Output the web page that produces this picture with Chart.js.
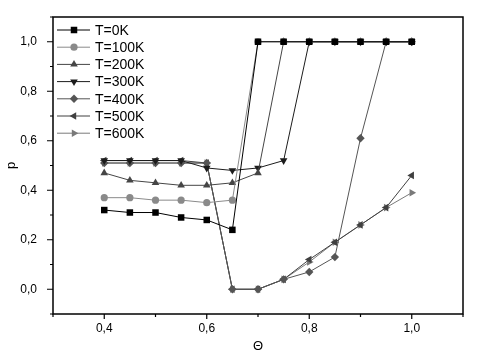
<!DOCTYPE html>
<html>
<head>
<meta charset="utf-8">
<script src="https://cdn.jsdelivr.net/npm/chart.js@4.4.0/dist/chart.umd.min.js"></script>
<style>
  body { margin: 0; background: #fff; }
  #wrap { width: 493px; height: 359px; }
</style>
</head>
<body>
<div id="wrap"><canvas id="myChart" width="493" height="359"></canvas></div>
<script>
// coverage angle values
var theta = [0.4, 0.45, 0.5, 0.55, 0.6, 0.65, 0.7, 0.75, 0.8, 0.85, 0.9, 0.95, 1.0];

var labels = ["T=0K", "T=100K", "T=200K", "T=300K", "T=400K", "T=500K", "T=600K"];
var p0   = [0.32, 0.31, 0.31, 0.29, 0.28, 0.24, 1, 1, 1, 1, 1, 1, 1];
var p100 = [0.37, 0.37, 0.36, 0.36, 0.35, 0.36, 1, 1, 1, 1, 1, 1, 1];
var p200 = [0.47, 0.44, 0.43, 0.42, 0.42, 0.43, 0.47, 1, 1, 1, 1, 1, 1];
var p300 = [0.52, 0.52, 0.52, 0.52, 0.49, 0.48, 0.49, 0.52, 1, 1, 1, 1, 1];
var p400 = [0.51, 0.51, 0.51, 0.51, 0.51, 0, 0, 0.04, 0.07, 0.13, 0.61, 1, 1];
var p500 = [0.52, 0.52, 0.52, 0.52, 0.51, 0, 0, 0.04, 0.12, 0.19, 0.26, 0.33, 0.46];
var p600 = [0.51, 0.51, 0.51, 0.51, 0.51, 0, 0, 0.04, 0.11, 0.19, 0.26, 0.33, 0.39];

var xTickLabels = [0.4, 0.6, 0.8, 1.0];
var yTickLabels = [0.0, 0.2, 0.4, 0.6, 0.8, 1.0];

var series = [p0, p100, p200, p300, p400, p500, p600];
var colors = ["#000000", "#8a8a8a", "#454545", "#1c1c1c", "#555555", "#404040", "#7a7a7a"];
var styles = ["rect", "circle", "triangle", "triangle", "rectRot", "triangle", "triangle"];
var rotations = [0, 0, 0, 180, 0, -90, 90];
var radii = [4.6, 3.6, 4.4, 4.4, 4.2, 4.4, 4.4];

function toXY(vals) {
  return vals.map(function (v, i) { return { x: theta[i], y: v }; });
}

var datasets = series.map(function (vals, i) {
  return {
    label: labels[i],
    data: toXY(vals),
    borderColor: colors[i],
    backgroundColor: colors[i],
    borderWidth: 1,
    pointStyle: styles[i],
    rotation: rotations[i],
    pointRadius: radii[i],
    pointBorderWidth: 0,
    tension: 0
  };
});

function fmt(v) {
  return v.toFixed(1).replace(".", ",");
}
function near(list, v) {
  return list.some(function (t) { return Math.abs(t - v) < 1e-6; });
}

// frame, ticks and the line+marker legend
var framePlugin = {
  id: "frame",
  afterDraw: function (chart) {
    var ctx = chart.ctx;
    var a = chart.chartArea;
    var xs = chart.scales.x, ys = chart.scales.y;
    ctx.save();
    ctx.strokeStyle = "#000";
    ctx.lineWidth = 1.5;
    ctx.strokeRect(a.left, a.top, a.right - a.left, a.bottom - a.top);
    ctx.lineWidth = 1.2;
    ctx.beginPath();
    for (var k = 3; k <= 11; k++) {
      var xv = k / 10;
      var px = xs.getPixelForValue(xv);
      var len = near(xTickLabels, xv) ? 5 : 3;
      ctx.moveTo(px, a.bottom);
      ctx.lineTo(px, a.bottom + len);
    }
    for (var j = -1; j <= 11; j++) {
      var yv = j / 10;
      var py = ys.getPixelForValue(yv);
      var l2 = near(yTickLabels, yv) ? 6 : 3;
      ctx.moveTo(a.left, py);
      ctx.lineTo(a.left - l2, py);
    }
    ctx.stroke();

    // legend
    ctx.font = "14px 'Liberation Sans', Arial, sans-serif";
    ctx.textBaseline = "middle";
    chart.data.datasets.forEach(function (ds, i) {
      var y = 30 + i * 17.2;
      ctx.strokeStyle = ds.borderColor;
      ctx.lineWidth = 1;
      ctx.beginPath();
      ctx.moveTo(57, y);
      ctx.lineTo(90, y);
      ctx.stroke();
      ctx.fillStyle = ds.backgroundColor;
      Chart.helpers.drawPoint(ctx, {
        pointStyle: ds.pointStyle, rotation: ds.rotation, radius: ds.pointRadius, borderWidth: 0
      }, 74, y);
      ctx.fillStyle = "#000";
      ctx.fillText(ds.label, 95, y + 1);
    });
    ctx.restore();
  }
};

var ctx = document.getElementById("myChart").getContext("2d");
var myChart = new Chart(ctx, {
  type: "line",
  data: { datasets: datasets },
  plugins: [framePlugin],
  options: {
    responsive: false,
    animation: false,
    layout: { padding: { top: 17, right: 30, left: 4, bottom: 5 } },
    plugins: { legend: { display: false }, tooltip: { enabled: false } },
    scales: {
      x: {
        type: "linear",
        min: 0.3,
        max: 1.1,
        grid: { display: false },
        border: { display: false },
        afterFit: function (s) { s.height = 40; },
        ticks: {
          stepSize: 0.1,
          autoSkip: false,
          maxRotation: 0,
          padding: -1,
          color: "#000",
          font: { size: 12, family: "'Liberation Sans', Arial, sans-serif" },
          callback: function (v) { return near(xTickLabels, v) ? fmt(v) : ""; }
        },
        title: {
          display: true,
          text: "Θ",
          color: "#000",
          padding: { top: 0, bottom: 0 },
          font: { size: 13, family: "'Liberation Sans', Arial, sans-serif" }
        }
      },
      y: {
        type: "linear",
        min: -0.1,
        max: 1.1,
        grid: { display: false },
        border: { display: false },
        afterFit: function (s) { s.width = 49; },
        ticks: {
          stepSize: 0.1,
          autoSkip: false,
          padding: 8,
          color: "#000",
          font: { size: 12, family: "'Liberation Sans', Arial, sans-serif" },
          callback: function (v) { return near(yTickLabels, v) ? fmt(v) : ""; }
        },
        title: {
          display: true,
          text: "p",
          color: "#000",
          padding: { top: 0, bottom: 0 },
          font: { size: 13, family: "'Liberation Sans', Arial, sans-serif" }
        }
      }
    }
  }
});
</script>
</body>
</html>
